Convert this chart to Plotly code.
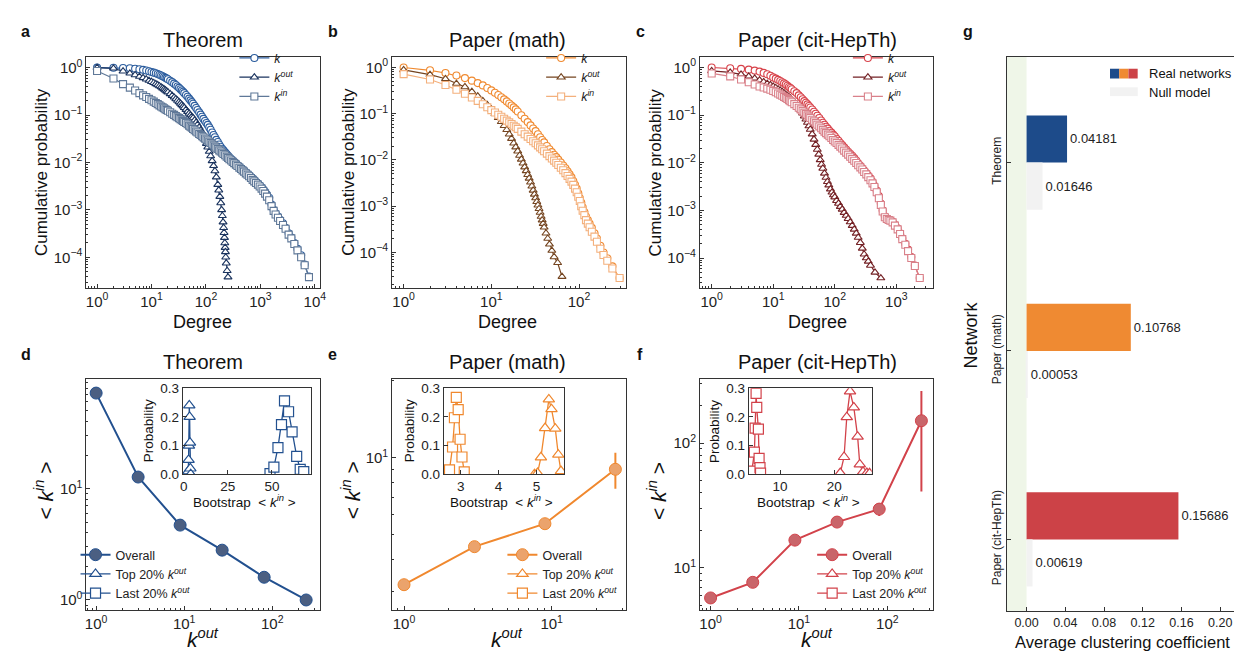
import plotly.graph_objects as go

W, H = 1242, 653
FONT = "Liberation Sans, Arial, sans-serif"

def px(x):
    return x / W

def py(y):
    return 1 - y / H

# ---------------- data: panel a (Theorem) ----------------
A_DEG = [1, 2, 3, 4, 5, 6, 7, 8, 9, 10,
         11, 12, 13, 14, 15, 16, 17, 18, 19, 20,
         22, 24, 26, 28, 30, 32, 34, 36, 38, 40,
         43, 46, 49, 52, 55, 58, 62, 66, 70, 75,
         80, 85, 90, 96, 102, 108, 115, 122, 130, 138,
         146, 155, 165, 175, 186, 198, 210, 225, 240, 255,
         270, 290, 310, 330, 355, 380, 410, 440, 470, 500,
         540, 580, 620, 670, 720, 770, 830, 900, 970, 1050,
         1130, 1220, 1320, 1450, 1600, 1750, 1900, 2100, 2300, 2600,
         2900, 3300, 3700, 4200, 4800, 5600, 6500, 7800]
A_K = [1.0, 0.995, 0.985, 0.97, 0.95, 0.925, 0.9, 0.87, 0.84, 0.81,
       0.785, 0.76, 0.735, 0.71, 0.685, 0.66, 0.635, 0.61, 0.59, 0.57,
       0.53, 0.495, 0.46, 0.43, 0.40, 0.375, 0.35, 0.33, 0.31, 0.29,
       0.265, 0.243, 0.222, 0.204, 0.188, 0.173, 0.156, 0.141, 0.128, 0.114,
       0.102, 0.092, 0.083, 0.075, 0.068, 0.062, 0.055, 0.049, 0.043, 0.038,
       0.034, 0.030, 0.027, 0.024, 0.0215, 0.0195, 0.018, 0.0163, 0.015, 0.0138,
       0.0128, 0.0118, 0.011, 0.0103, 0.0095, 0.0088, 0.0082, 0.0076, 0.0071, 0.0067,
       0.0062, 0.0058, 0.0054, 0.005, 0.0046, 0.0043, 0.0039, 0.0036, 0.0033, 0.003,
       0.0027, 0.0024, 0.0021, 0.0018, 0.0013, 0.001, 0.00085, 0.00072, 0.00062, 0.00052,
       0.00042, 0.00032, 0.00026, 0.0002, 0.00015, 0.00011, 0.00007, 0.000039]
A_KIN = [0.85, 0.59, 0.45, 0.38, 0.33, 0.29, 0.26, 0.24, 0.22, 0.205,
         0.192, 0.18, 0.17, 0.16, 0.152, 0.145, 0.139, 0.133, 0.128, 0.123,
         0.115, 0.107, 0.101, 0.095, 0.09, 0.086, 0.082, 0.078, 0.075, 0.072,
         0.068, 0.064, 0.06, 0.057, 0.054, 0.051, 0.048, 0.045, 0.043, 0.04,
         0.038, 0.036, 0.034, 0.032, 0.0305, 0.029, 0.0273, 0.0258, 0.0243, 0.0229,
         0.0216, 0.0204, 0.0192, 0.018, 0.017, 0.016, 0.0151, 0.0142, 0.0133, 0.0125,
         0.0117, 0.011, 0.0103, 0.0097, 0.009, 0.0084, 0.0078, 0.0073, 0.0068, 0.0064,
         0.0059, 0.0055, 0.0051, 0.0047, 0.0043, 0.004, 0.0037, 0.0034, 0.0031, 0.0028,
         0.0025, 0.0022, 0.0019, 0.0016, 0.0012, 0.00095, 0.0008, 0.00068, 0.00058, 0.00048,
         0.0004, 0.0003, 0.00025, 0.00019, 0.00014, 0.0001, 0.000068, 0.000038]
A_KOUT_DEG = [1, 2, 3, 4, 5, 6, 7, 8, 9, 10,
              11, 12, 13, 14, 15, 16, 17, 18, 19, 20,
              22, 24, 26, 28, 30, 32, 34, 36, 38, 40,
              43, 46, 49, 52, 55, 58, 62, 66, 70, 75,
              80, 85, 90, 96, 102, 108, 115, 122, 130, 138,
              146, 155, 165, 172, 180, 187, 194, 200, 206, 211,
              215, 219, 222, 225, 228, 231, 236, 245, 254]
A_KOUT = [1.0, 0.97, 0.84, 0.76, 0.7, 0.65, 0.61, 0.57, 0.535, 0.505,
          0.48, 0.455, 0.432, 0.41, 0.39, 0.37, 0.352, 0.335, 0.32, 0.305,
          0.28, 0.257, 0.237, 0.219, 0.203, 0.189, 0.176, 0.164, 0.153, 0.143,
          0.13, 0.118, 0.108, 0.1, 0.093, 0.087, 0.078, 0.07, 0.063, 0.055,
          0.048, 0.042, 0.036, 0.03, 0.025, 0.021, 0.017, 0.0137, 0.0108, 0.0085,
          0.0066, 0.0049, 0.0034, 0.0026, 0.0019, 0.0014, 0.001, 0.00075, 0.00055, 0.00042,
          0.00033, 0.00026, 0.0002, 0.00016, 0.00013, 0.0001, 0.000075, 0.000052, 0.000038]

# ---------------- data: panel b (Paper math) ----------------
B_DEG = [1, 2, 3, 4, 5, 6, 7, 8, 9, 10,
         11, 12, 13, 14, 15, 16, 17, 18, 19, 20,
         22, 24, 26, 28, 30, 32, 34, 36, 38, 40,
         43, 46, 49, 52, 55, 58, 62, 66, 70, 74,
         78, 82, 86, 90, 94, 98, 102, 106, 110, 115,
         120, 126, 132, 140, 150, 160, 175, 190, 210, 240,
         290]
B_K = [1.0, 0.87, 0.76, 0.67, 0.59, 0.52, 0.46, 0.41, 0.36, 0.32,
       0.285, 0.255, 0.228, 0.205, 0.185, 0.167, 0.151, 0.137, 0.124, 0.112,
       0.093, 0.078, 0.066, 0.056, 0.048, 0.042, 0.036, 0.031, 0.027, 0.024,
       0.02, 0.017, 0.0148, 0.013, 0.0115, 0.0102, 0.0088, 0.0076, 0.0066, 0.0057,
       0.0049, 0.0042, 0.0035, 0.0029, 0.0024, 0.0019, 0.0015, 0.0012, 0.00095, 0.00075,
       0.0006, 0.0005, 0.00042, 0.00034, 0.00026, 0.0002, 0.00014, 0.0001, 0.000075, 0.00005,
       0.000028]
B_KIN = [0.72, 0.55, 0.42, 0.33, 0.27, 0.225, 0.19, 0.16, 0.138, 0.12,
         0.106, 0.095, 0.086, 0.078, 0.071, 0.065, 0.06, 0.055, 0.051, 0.047,
         0.041, 0.036, 0.032, 0.0285, 0.0255, 0.023, 0.0207, 0.0187, 0.017, 0.0155,
         0.0137, 0.0121, 0.0108, 0.0097, 0.0087, 0.0078, 0.0068, 0.006, 0.0052, 0.0045,
         0.0039, 0.0034, 0.0029, 0.0024, 0.002, 0.0016, 0.0013, 0.001, 0.0008, 0.00064,
         0.0005, 0.00042, 0.00035, 0.00028, 0.00022, 0.00017, 0.00012, 0.000088, 0.000066, 0.000045,
         0.000028]
B_KOUT_DEG = [1, 2, 3, 4, 5, 6, 7, 8, 9, 10, 11, 12, 13, 14, 15, 16, 17, 18, 19, 20,
              21, 22, 23, 24, 25, 26, 27, 28, 29, 30, 31, 32, 33, 34, 35, 36, 37, 38, 39, 40,
              42, 44, 46, 49, 52, 57, 64]
B_KOUT = [0.89, 0.70, 0.57, 0.45, 0.38, 0.30, 0.24, 0.19, 0.155, 0.125,
          0.1, 0.082, 0.067, 0.055, 0.045, 0.036, 0.029, 0.023, 0.019, 0.0155,
          0.0125, 0.0103, 0.0085, 0.007, 0.0058, 0.0048, 0.004, 0.0033, 0.0027, 0.0022,
          0.0018, 0.0015, 0.00125, 0.00105, 0.00088, 0.00073, 0.0006, 0.0005, 0.00042, 0.00035,
          0.00026, 0.0002, 0.00015, 0.00011, 0.00008, 0.00006, 0.00003]

# ---------------- data: panel c (Paper cit-HepTh) ----------------
C_DEG = [1, 2, 3, 4, 5, 6, 7, 8, 9, 10,
         11, 12, 13, 14, 15, 16, 17, 18, 19, 20,
         22, 24, 26, 28, 30, 32, 34, 36, 38, 40,
         43, 46, 49, 52, 56, 60, 64, 68, 72, 77,
         82, 88, 94, 100, 107, 115, 123, 132, 142, 153,
         165, 178, 192, 207, 223, 240, 260, 280, 300, 325,
         350, 380, 410, 440, 480, 520, 560, 600, 650, 700,
         750, 800, 870, 950, 1050, 1150, 1250, 1400, 1550, 1750,
         2000, 2400]
C_K = [1.0, 0.965, 0.935, 0.9, 0.86, 0.82, 0.77, 0.72, 0.67, 0.62,
       0.585, 0.55, 0.52, 0.49, 0.465, 0.44, 0.415, 0.39, 0.37, 0.35,
       0.318, 0.29, 0.26, 0.237, 0.215, 0.197, 0.182, 0.168, 0.156, 0.145,
       0.131, 0.118, 0.107, 0.097, 0.087, 0.077, 0.069, 0.063, 0.057, 0.052,
       0.047, 0.043, 0.039, 0.036, 0.032, 0.029, 0.026, 0.0235, 0.021, 0.019,
       0.017, 0.0155, 0.014, 0.0125, 0.0112, 0.0098, 0.0086, 0.0077, 0.0069, 0.0061,
       0.0054, 0.0047, 0.004, 0.0033, 0.0026, 0.002, 0.0014, 0.001, 0.00075, 0.00068,
       0.00065, 0.00063, 0.00058, 0.0005, 0.00042, 0.00033, 0.00026, 0.0002, 0.00015, 0.000105,
       0.00007, 0.000038]
C_KIN = [0.75, 0.65, 0.56, 0.49, 0.44, 0.4, 0.38, 0.36, 0.34, 0.32,
         0.302, 0.285, 0.27, 0.255, 0.242, 0.23, 0.218, 0.207, 0.196, 0.186,
         0.17, 0.156, 0.143, 0.132, 0.122, 0.113, 0.106, 0.099, 0.093, 0.087,
         0.08, 0.074, 0.068, 0.063, 0.058, 0.053, 0.049, 0.045, 0.042, 0.039,
         0.036, 0.033, 0.03, 0.028, 0.026, 0.0238, 0.0218, 0.02, 0.018, 0.0163,
         0.0148, 0.0134, 0.0121, 0.011, 0.0099, 0.0089, 0.008, 0.0072, 0.0064, 0.0057,
         0.005, 0.0043, 0.0037, 0.0031, 0.0024, 0.0018, 0.0013, 0.00095, 0.00072, 0.00066,
         0.00063, 0.00061, 0.00056, 0.00048, 0.0004, 0.00032, 0.00025, 0.00019, 0.00014, 0.0001,
         0.000068, 0.000038]
C_KOUT_DEG = [1, 2, 3, 4, 5, 6, 7, 8, 9, 10,
              11, 12, 13, 14, 15, 16, 17, 18, 19, 20,
              22, 24, 26, 28, 30, 32, 34, 36, 38, 40,
              43, 46, 49, 52, 55, 58, 61, 64, 68, 72,
              76, 80, 85, 90, 95, 100, 107, 115, 123, 132,
              142, 153, 165, 178, 192, 207, 223, 240, 260, 280,
              300, 325, 350, 380, 450, 560]
C_KOUT = [0.85, 0.79, 0.72, 0.65, 0.59, 0.54, 0.5, 0.46, 0.43, 0.4,
          0.375, 0.35, 0.33, 0.31, 0.29, 0.27, 0.255, 0.24, 0.225, 0.21,
          0.187, 0.165, 0.145, 0.127, 0.11, 0.095, 0.082, 0.07, 0.059, 0.05,
          0.04, 0.031, 0.024, 0.019, 0.015, 0.0115, 0.0092, 0.0076, 0.006, 0.0049,
          0.004, 0.0034, 0.0028, 0.0024, 0.0021, 0.0019, 0.0016, 0.0014, 0.0012, 0.00105,
          0.0009, 0.00078, 0.00067, 0.00057, 0.00048, 0.0004, 0.00033, 0.00027, 0.00021, 0.00016,
          0.00012, 0.0001, 0.000085, 0.00007, 0.00005, 0.000038]

# ---------------- data: panels d, e, f ----------------
D_KOUT = [1, 3, 9, 27, 81, 243]
D_KIN = [72, 12.7, 4.7, 2.8, 1.6, 1.0]
E_KOUT = [1, 3, 9, 27]
E_KIN = [3.19, 4.49, 5.52, 9.0]
E_ERR = [0.04, 0.06, 0.12, 1.45]
F_KOUT = [1, 3, 9, 27, 81, 243]
F_KIN = [5.75, 7.67, 16.7, 23.3, 29.6, 151]
F_ERR = [0.1, 0.2, 0.5, 1.0, 3.5, 110]

# insets (bootstrap distributions)
D_TOP_X = [2.4, 2.6, 2.8, 3.0, 3.2, 3.4, 3.6, 3.8, 4.0]
D_TOP_P = [0.0, 0.01, 0.05, 0.10, 0.24, 0.20, 0.11, 0.02, 0.0]
D_LAST_X = [48.9, 51.1, 53.4, 55.4, 57.1, 59.4, 61.4, 64.0, 66.0, 68.0]
D_LAST_P = [0.002, 0.025, 0.093, 0.173, 0.256, 0.218, 0.148, 0.062, 0.017, 0.009]
E_TOP_X = [4.95, 5.03, 5.12, 5.23, 5.33, 5.40, 5.50, 5.58, 5.65]
E_TOP_P = [0.0, 0.004, 0.059, 0.161, 0.261, 0.227, 0.159, 0.068, 0.011]
E_LAST_X = [2.62, 2.70, 2.78, 2.83, 2.88, 2.93, 2.98, 3.03, 3.09]
E_LAST_P = [0.002, 0.015, 0.095, 0.197, 0.268, 0.225, 0.122, 0.06, 0.008]
F_TOP_X = [21.1, 21.8, 22.3, 22.9, 23.6, 24.3, 24.7, 25.3, 26.0, 26.5]
F_TOP_P = [0.004, 0.06, 0.199, 0.289, 0.233, 0.131, 0.034, 0.008, 0.004, 0.003]
F_LAST_X = [4.79, 5.27, 5.4, 5.58, 5.7, 6.0, 6.13, 6.3, 6.4]
F_LAST_P = [0.011, 0.077, 0.161, 0.282, 0.233, 0.157, 0.055, 0.023, 0.004]

# ---------------- data: panel g ----------------
G_NETWORKS = ["Theorem", "Paper (math)", "Paper (cit-HepTh)"]
G_REAL = [0.04181, 0.10768, 0.15686]
G_NULL = [0.01646, 0.00053, 0.00619]
G_REAL_COLORS = ["#1d4b8a", "#ef8a32", "#cc4247"]
G_NULL_COLOR = "#f2f2f2"

# tick labels
LOG_TICKS = [1e-4, 1e-3, 1e-2, 1e-1, 1, 10, 100, 1000, 10000]
LOG_LABELS = ["10<sup>\u22124</sup>", "10<sup>\u22123</sup>", "10<sup>\u22122</sup>", "10<sup>\u22121</sup>",
              "10<sup>0</sup>", "10<sup>1</sup>", "10<sup>2</sup>", "10<sup>3</sup>", "10<sup>4</sup>"]
MINOR = [m * 10.0 ** e for e in range(-5, 5) for m in range(2, 10)]

K_NAME = "<i>k</i>"
KOUT_NAME = "<i>k</i><sup><i>out</i></sup>"
KIN_NAME = "<i>k</i><sup><i>in</i></sup>"

fig = go.Figure()

# ---------- top panels ----------
TOP = [
    ("x", "y", "legend", A_DEG, A_K, A_KOUT_DEG, A_KOUT, A_KIN, ("#2c5d9e", "#1a335e", "#5f7898")),
    ("x2", "y2", "legend2", B_DEG, B_K, B_KOUT_DEG, B_KOUT, B_KIN, ("#f08a30", "#74441f", "#f4b07c")),
    ("x3", "y3", "legend3", C_DEG, C_K, C_KOUT_DEG, C_KOUT, C_KIN, ("#d8434b", "#732024", "#d9818a")),
]
for xa, ya, lg, deg, k, kod, ko, ki, cols in TOP:
    fig.add_trace(go.Scatter(x=deg, y=k, name=K_NAME, mode="lines+markers", xaxis=xa, yaxis=ya, legend=lg,
                             line=dict(color=cols[0], width=1.2),
                             marker=dict(symbol="circle", size=7, color="white", line=dict(color=cols[0], width=1.1))))
    fig.add_trace(go.Scatter(x=kod, y=ko, name=KOUT_NAME, mode="lines+markers", xaxis=xa, yaxis=ya, legend=lg,
                             line=dict(color=cols[1], width=1.2),
                             marker=dict(symbol="triangle-up", size=7, color="white", line=dict(color=cols[1], width=1.1))))
    fig.add_trace(go.Scatter(x=deg, y=ki, name=KIN_NAME, mode="lines+markers", xaxis=xa, yaxis=ya, legend=lg,
                             line=dict(color=cols[2], width=1.2),
                             marker=dict(symbol="square", size=7, color="white", line=dict(color=cols[2], width=1.1))))

# ---------- bottom panels ----------
BOT = [
    ("x4", "y4", "x8", "y8", "legend4", D_KOUT, D_KIN, None, D_TOP_X, D_TOP_P, D_LAST_X, D_LAST_P,
     ("#22508f", "#4b5f82")),
    ("x5", "y5", "x9", "y9", "legend5", E_KOUT, E_KIN, E_ERR, E_TOP_X, E_TOP_P, E_LAST_X, E_LAST_P,
     ("#f0882e", "#eba36c")),
    ("x6", "y6", "x10", "y10", "legend6", F_KOUT, F_KIN, F_ERR, F_TOP_X, F_TOP_P, F_LAST_X, F_LAST_P,
     ("#d2424a", "#c9656a")),
]
for xa, ya, xi, yi, lg, kx, ky, err, tx, tp, lx, lp, cols in BOT:
    ey = None
    if err is not None:
        ey = dict(type="data", array=err, visible=True, color=cols[0], thickness=2, width=0)
    fig.add_trace(go.Scatter(x=kx, y=ky, name="Overall", mode="lines+markers", xaxis=xa, yaxis=ya, legend=lg,
                             error_y=ey, line=dict(color=cols[0], width=2),
                             marker=dict(symbol="circle", size=12, color=cols[1], line=dict(color=cols[0], width=1))))
    fig.add_trace(go.Scatter(x=tx, y=tp, name="Top 20% " + KOUT_NAME, mode="lines+markers", xaxis=xi, yaxis=yi,
                             legend=lg, line=dict(color=cols[0], width=1.3),
                             marker=dict(symbol="triangle-up", size=10, color="white", line=dict(color=cols[0], width=1.2))))
    fig.add_trace(go.Scatter(x=lx, y=lp, name="Last 20% " + KOUT_NAME, mode="lines+markers", xaxis=xi, yaxis=yi,
                             legend=lg, line=dict(color=cols[0], width=1.3),
                             marker=dict(symbol="square", size=10, color="white", line=dict(color=cols[0], width=1.2))))

# ---------- panel g ----------
fig.add_trace(go.Bar(y=G_NETWORKS, x=G_REAL, orientation="h", xaxis="x7", yaxis="y7", width=0.25, offset=-0.25,
                     marker=dict(color=G_REAL_COLORS, line=dict(width=0)), showlegend=False,
                     texttemplate="%{x:.5f}", textposition="outside", cliponaxis=False,
                     textfont=dict(size=13, color="#222", family=FONT)))
fig.add_trace(go.Bar(y=G_NETWORKS, x=G_NULL, orientation="h", xaxis="x7", yaxis="y7", width=0.25, offset=0,
                     marker=dict(color=G_NULL_COLOR, line=dict(width=0)), showlegend=False,
                     texttemplate="%{x:.5f}", textposition="outside", cliponaxis=False,
                     textfont=dict(size=13, color="#222", family=FONT)))

# ---------- axes ----------
def axis(domain, anchor, **kw):
    d = dict(domain=domain, anchor=anchor, showline=True, mirror=True, linecolor="#333", linewidth=1,
             ticks="inside", ticklen=4, tickwidth=1, tickcolor="#333", showgrid=False, zeroline=False,
             tickfont=dict(size=15, color="#222", family=FONT))
    d.update(kw)
    return d

def logaxis(domain, anchor, rng):
    return axis(domain, anchor, type="log", range=rng, tickmode="array", tickvals=LOG_TICKS, ticktext=LOG_LABELS,
                minor=dict(ticks="inside", ticklen=2, tickcolor="#333", tickmode="array", tickvals=MINOR))

TOPY = [py(279), py(43)]
BOTY = [py(609), py(373)]
XA = [px(76), px(311)]
XB = [px(384), px(619)]
XC = [px(694), px(929)]
INSET_FONT = dict(size=13.5, color="#222", family=FONT)

layout_axes = dict(
    xaxis=logaxis(XA, "y", [-0.195, 4.09]),
    yaxis=logaxis(TOPY, "x", [-4.64, 0.225]),
    xaxis2=logaxis(XB, "y2", [-0.13, 2.53]),
    yaxis2=logaxis(TOPY, "x2", [-4.76, 0.227]),
    xaxis3=logaxis(XC, "y3", [-0.19, 3.6]),
    yaxis3=logaxis(TOPY, "x3", [-4.62, 0.22]),
    xaxis4=logaxis(XA, "y4", [-0.11, 2.54]),
    yaxis4=logaxis(BOTY, "x4", [-0.09, 1.98]),
    xaxis5=logaxis(XB, "y5", [-0.08, 1.5]),
    yaxis5=logaxis(BOTY, "x5", [0.405, 1.305]),
    xaxis6=logaxis(XC, "y6", [-0.12, 2.52]),
    yaxis6=logaxis(BOTY, "x6", [0.663, 2.51]),
    xaxis7=axis([px(1003), px(1238)], "y7", range=[-0.0205, 0.2205], tickmode="array",
                tickvals=[0, 0.04, 0.08, 0.12, 0.16, 0.20], tickformat=".2f",
                tickfont=dict(size=12.5, color="#222", family=FONT)),
    yaxis7=axis([py(610), py(43)], "x7", type="category", range=[2.38, -0.56], tickangle=-90,
                tickfont=dict(size=12, color="#222", family=FONT)),
    xaxis8=axis([px(173), px(302)], "y8", range=[-0.5, 72], tickvals=[0, 25, 50], tickfont=INSET_FONT),
    yaxis8=axis([py(470), py(382)], "x8", range=[0, 0.3], tickvals=[0, 0.1, 0.2, 0.3], tickformat=".1f",
                tickfont=INSET_FONT),
    xaxis9=axis([px(436), px(557)], "y9", range=[2.55, 5.73], tickvals=[3, 4, 5], tickfont=INSET_FONT),
    yaxis9=axis([py(470), py(382)], "x9", range=[0, 0.3], tickvals=[0, 0.1, 0.2, 0.3], tickformat=".1f",
                tickfont=INSET_FONT),
    xaxis10=axis([px(743), px(867)], "y10", range=[4.2, 26.9], tickvals=[10, 20], tickfont=INSET_FONT),
    yaxis10=axis([py(470), py(382)], "x10", range=[0, 0.3], tickvals=[0, 0.1, 0.2, 0.3], tickformat=".1f",
                 tickfont=INSET_FONT),
)

def legend(x, y, xa, ya, size=12.5):
    return dict(x=x, y=y, xanchor=xa, yanchor=ya, bgcolor="rgba(0,0,0,0)", borderwidth=0,
                font=dict(size=size, color="#222", family=FONT), itemwidth=30, tracegroupgap=0)

# ---------- annotations ----------
ann = []
def text(x, y, s, size, angle=0, xanchor="center", bold=False):
    ann.append(dict(x=px(x), y=py(y), xref="paper", yref="paper", text=("<b>%s</b>" % s) if bold else s,
                    showarrow=False, textangle=angle, xanchor=xanchor, yanchor="middle",
                    font=dict(size=size, color="#111", family=FONT)))

for lab, x, y in [("a", 15, 17), ("b", 324, 17), ("c", 634, 17), ("d", 15, 347), ("e", 324, 347),
                  ("f", 634, 347), ("g", 964, 17)]:
    text(x, y, lab, 16, bold=True)

for t, cx in [("Theorem", 193), ("Paper (math)", 500), ("Paper (cit-HepTh)", 812)]:
    text(cx, 26, t, 20)
    text(cx, 355, t, 20)

for cx, yx in [(193, 31), (500, 340), (812, 649)]:
    text(cx, 314, "Degree", 18)
    text(yx, 161, "Cumulative probability", 17, angle=-90)
    text(cx, 638, "<i>k</i><sup><i>out</i></sup>", 21)
    text(yx + 2, 487, "&lt; <i>k</i><sup><i>in</i></sup> &gt;", 21, angle=-90)

for x0, x1 in [(173, 302), (436, 557), (743, 867)]:
    text((x0 + x1) / 2 - 2, 497, "Bootstrap  &lt; <i>k</i><sup><i>in</i></sup> &gt;", 13.5)
    text(x0 - 35, 426, "Probability", 13.5, angle=-90)

text(1120, 642, "Average clustering coefficient", 16.5)
text(967, 327, "Network", 18, angle=-90)
text(1144, 60, "Real networks", 13, xanchor="left")
text(1144, 79, "Null model", 13, xanchor="left")

# ---------- shapes (g background band + legend swatches) ----------
shapes = [
    dict(type="rect", xref="x7", yref="y7 domain", x0=-0.0205, x1=0, y0=0, y1=1,
         fillcolor="#eff6e8", line=dict(width=0), layer="below"),
]
for i, c in enumerate(G_REAL_COLORS):
    shapes.append(dict(type="rect", xref="paper", yref="paper", x0=px(1107 + 9.3 * i), x1=px(1107 + 9.3 * (i + 1)),
                       y0=py(65), y1=py(55), fillcolor=c, line=dict(width=0)))
shapes.append(dict(type="rect", xref="paper", yref="paper", x0=px(1107), x1=px(1135), y0=py(83), y1=py(74),
                   fillcolor=G_NULL_COLOR, line=dict(width=0)))

fig.update_layout(
    width=W, height=H, margin=dict(l=0, r=0, t=0, b=0),
    paper_bgcolor="white", plot_bgcolor="white",
    font=dict(family=FONT, color="#222"),
    barmode="overlay",
    annotations=ann, shapes=shapes,
    legend=legend(px(225), py(29), "left", "top"),
    legend2=legend(px(534), py(29), "left", "top"),
    legend3=legend(px(843), py(29), "left", "top"),
    legend4=legend(px(65), py(607), "left", "bottom"),
    legend5=legend(px(495), py(607), "left", "bottom"),
    legend6=legend(px(807), py(607), "left", "bottom"),
    **layout_axes,
)

fig.write_html("out.html")
